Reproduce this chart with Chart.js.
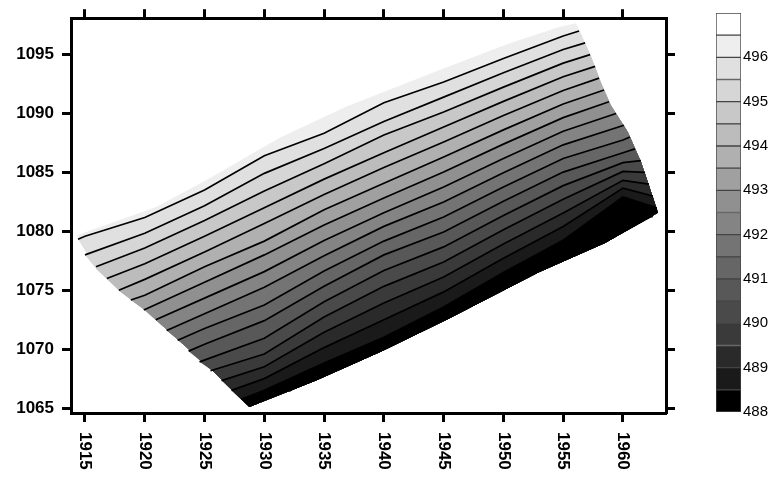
<!DOCTYPE html>
<html>
<head>
<meta charset="utf-8">
<script src="https://cdn.jsdelivr.net/npm/chart.js@4.4.1/dist/chart.umd.min.js"></script>
<style>
html, body { margin: 0; padding: 0; background: #fff; }
#wrap { position: relative; width: 774px; height: 484px; }
#map { position: absolute; left: 0; top: 0; }
#bar { position: absolute; left: 700px; top: 0; }
</style>
</head>
<body>
<div id="wrap">
  <canvas id="map" width="774" height="484"></canvas>
  <canvas id="bar" width="74" height="484"></canvas>
</div>
<script>
// year columns used to read the contour lines
const years = [1915, 1920, 1925, 1930, 1935, 1940, 1945, 1950, 1955, 1960];

// contour levels, top line first
const levels = [496, 495.5, 495, 494.5, 494, 493.5, 493, 492.5, 492, 491.5, 491, 490.5, 490, 489.5, 489, 488.5, 488];

// outline of the gridded area, clockwise from the left corner
const edgeX = [1914.33, 1917.08, 1921.0, 1925.42, 1931.25, 1936.83, 1941.25, 1944.83, 1950.42, 1954.58,
  1956.08, 1956.5, 1957.33, 1958.17, 1959.0, 1960.42, 1961.5, 1962.33, 1962.92,
  1958.5, 1952.92, 1945.42, 1939.83, 1934.33, 1928.75,
  1925.67, 1922.92, 1920.0, 1917.92, 1916.0];
const edgeY = [1079.67, 1080.67, 1082.08, 1084.5, 1087.92, 1090.58, 1092.33, 1093.75, 1095.92, 1097.33,
  1097.67, 1096.75, 1094.83, 1092.58, 1090.67, 1088.42, 1085.92, 1083.42, 1081.58,
  1079.0, 1076.5, 1072.58, 1069.83, 1067.33, 1065.08,
  1068.17, 1070.67, 1073.33, 1074.92, 1076.75];

// where each contour line meets the outline
const startX = [1914.42, 1915.0, 1915.92, 1916.83, 1917.83, 1918.83, 1919.92, 1920.92, 1921.83, 1922.75, 1923.67, 1924.58, 1925.5, 1926.42, 1927.25, 1928.08, 1932.08];
const startY = [1079.33, 1078.0, 1077.0, 1076.0, 1075.0, 1074.17, 1073.33, 1072.5, 1071.58, 1070.75, 1069.83, 1068.92, 1068.17, 1067.33, 1066.5, 1065.75, 1066.42];
const endX = [1956.33, 1956.83, 1957.25, 1957.67, 1958.0, 1958.42, 1958.83, 1959.42, 1960.08, 1960.58, 1961.0, 1961.5, 1961.83, 1962.17, 1962.5, 1962.83, 1962.5];
const endY = [1097, 1096, 1095, 1094, 1093, 1092, 1091, 1090, 1089, 1088, 1087, 1086, 1085, 1084, 1083, 1082, 1081.25];

// y of each contour line at the year columns (null = line not there)
const lineY = [
  [1079.58, 1081.17, 1083.5, 1086.42, 1088.33, 1090.92, 1092.67, 1094.67, 1096.58, null],
  [null, 1079.83, 1082.17, 1084.92, 1087.03, 1089.33, 1091.39, 1093.46, 1095.43, null],
  [null, 1078.58, 1080.92, 1083.42, 1085.73, 1088.17, 1090.13, 1092.24, 1094.28, null],
  [null, 1077.25, 1079.58, 1082.0, 1084.43, 1086.67, 1088.85, 1091.03, 1093.12, null],
  [null, 1075.92, 1078.25, 1080.67, 1083.13, 1085.42, 1087.58, 1089.83, 1091.96, null],
  [null, 1074.58, 1077.0, 1079.17, 1081.83, 1084.08, 1086.31, 1088.61, 1090.81, null],
  [null, null, 1075.67, 1078.0, 1080.53, 1082.83, 1085.03, 1087.4, 1089.65, null],
  [null, null, 1074.33, 1076.58, 1079.23, 1081.58, 1083.76, 1086.19, 1088.49, null],
  [null, null, 1073.0, 1075.25, 1077.93, 1080.42, 1082.49, 1084.98, 1087.34, null],
  [null, null, 1071.75, 1073.75, 1076.63, 1079.17, 1081.22, 1083.77, 1086.18, 1087.75],
  [null, null, 1070.42, 1072.42, 1075.33, 1078.0, 1079.94, 1082.56, 1085.03, 1086.67],
  [null, null, null, 1070.92, 1074.03, 1076.67, 1078.68, 1081.34, 1083.88, 1085.83],
  [null, null, null, 1069.58, 1072.73, 1075.33, 1077.4, 1080.13, 1082.72, 1085.08],
  [null, null, null, 1068.5, 1071.43, 1073.92, 1076.13, 1078.93, 1081.56, 1084.33],
  [null, null, null, 1067.5, 1070.13, 1072.5, 1074.86, 1077.71, 1080.41, 1083.67],
  [null, null, null, 1066.5, 1068.83, 1071.0, 1073.58, 1076.5, 1079.25, 1082.92],
  [null, null, null, null, 1068.17, 1070.42, 1072.92, 1075.67, 1078.42, 1081.5]
];

// colour scale, bottom band first
const barLevels = [488, 488.5, 489, 489.5, 490, 490.5, 491, 491.5, 492, 492.5, 493, 493.5, 494, 494.5, 495, 495.5, 496, 496.5, 497];
const barGrays = [0, 26, 42, 58, 74, 88, 102, 116, 132, 144, 160, 176, 188, 200, 214, 224, 238, 255];
const barTicks = [488, 489, 490, 491, 492, 493, 494, 495, 496];

const FONT = '"Liberation Sans", Arial, sans-serif';
const gray = g => `rgb(${g},${g},${g})`;
const pt = (x, y) => ({x, y});
const edge = edgeX.map((x, i) => pt(x, edgeY[i]));

const contours = levels.map((lv, k) => {
  const pts = [pt(startX[k], startY[k])];
  lineY[k].forEach((y, j) => { if (y !== null) pts.push(pt(years[j], y)); });
  pts.push(pt(endX[k], endY[k]));
  return pts;
});

function segDist(p, a, b) {
  const dx = b.x - a.x, dy = b.y - a.y;
  let t = ((p.x - a.x) * dx + (p.y - a.y) * dy) / (dx * dx + dy * dy);
  t = Math.max(0, Math.min(1, t));
  return Math.hypot(p.x - a.x - t * dx, p.y - a.y - t * dy);
}
function nearestSeg(p) {
  let best = 0, bd = Infinity;
  edge.forEach((a, i) => {
    const d = segDist(p, a, edge[(i + 1) % edge.length]);
    if (d < bd) { bd = d; best = i; }
  });
  return best;
}
// filler clips a shape to its first..last x, so start at the leftmost point
// and finish on the rightmost one (the extra chord cancels out)
function closedShape(pts) {
  let lo = 0, hi = 0;
  pts.forEach((p, i) => { if (p.x < pts[lo].x) lo = i; if (p.x > pts[hi].x) hi = i; });
  const ring = pts.slice(lo).concat(pts.slice(0, lo + 1));
  ring.push(pts[hi]);
  return ring;
}
function belowShape(line) {
  const is = nearestSeg(line[0]);
  const ie = nearestSeg(line[line.length - 1]);
  const pts = line.slice();
  const n = edge.length;
  for (let i = (ie + 1) % n; ; i = (i + 1) % n) {
    pts.push(edge[i]);
    if (i === is) break;
  }
  return closedShape(pts);
}
function bandGray(v) {
  const i = Math.max(0, Math.round((v - 0.5 - barLevels[0]) / 0.5));
  return gray(barGrays[Math.min(i, barGrays.length - 1)]);
}

const datasets = [];
datasets.push({
  data: closedShape(edge), showLine: true, fill: 'shape',
  backgroundColor: bandGray(levels[0] + 0.5), borderColor: 'rgba(0,0,0,0)', borderWidth: 0, order: 200
});
contours.forEach((line, k) => {
  datasets.push({
    data: belowShape(line), showLine: true, fill: 'shape',
    backgroundColor: bandGray(levels[k]), borderColor: 'rgba(0,0,0,0)', borderWidth: 0, order: 100 - k
  });
});
contours.forEach(line => {
  datasets.push({
    data: line, showLine: true, fill: false,
    borderColor: '#000', borderWidth: 1.7, order: 0
  });
});

const frame = {
  grid: { display: true, drawOnChartArea: false, drawTicks: true, tickLength: 9, tickWidth: 3, tickColor: '#000' },
  border: { display: true, width: 3, color: '#000' }
};
const xRange = { min: 1913.83, max: 1963.6 };
const yRange = { min: 1064.58, max: 1098.09 };

const xLabels = {
  id: 'xLabels',
  afterDraw(chart) {
    const sc = chart.scales.x, ctx = chart.ctx;
    ctx.save();
    ctx.font = 'bold 17px ' + FONT;
    ctx.fillStyle = '#000';
    ctx.textAlign = 'left';
    ctx.textBaseline = 'middle';
    sc.ticks.forEach(t => {
      ctx.save();
      ctx.translate(sc.getPixelForValue(t.value), sc.top + 19);
      ctx.rotate(Math.PI / 2);
      ctx.fillText(String(t.value), 0, 0);
      ctx.restore();
    });
    ctx.restore();
  }
};

new Chart(document.getElementById('map'), {
  type: 'scatter',
  data: { datasets },
  plugins: [xLabels],
  options: {
    responsive: false,
    animation: false,
    layout: { padding: 0 },
    elements: { point: { radius: 0, hoverRadius: 0 }, line: { tension: 0 } },
    plugins: { legend: { display: false }, tooltip: { enabled: false } },
    events: [],
    scales: {
      x: {
        type: 'linear', position: 'bottom', ...xRange, ...frame,
        ticks: { stepSize: 5, includeBounds: false, display: false },
        afterFit: s => { s.height = 71; }
      },
      x2: {
        type: 'linear', position: 'top', ...xRange, ...frame,
        ticks: { stepSize: 5, includeBounds: false, display: false },
        afterFit: s => { s.height = 12; }
      },
      y: {
        type: 'linear', position: 'left', ...yRange, ...frame,
        ticks: {
          stepSize: 5, includeBounds: false, padding: 8, color: '#000',
          font: { family: FONT, size: 17, weight: 'bold' },
          callback: v => String(v)
        },
        afterFit: s => { s.width = 71; }
      },
      y2: {
        type: 'linear', position: 'right', ...yRange, ...frame,
        ticks: { stepSize: 5, includeBounds: false, display: false },
        afterFit: s => { s.width = 108; }
      }
    }
  }
});

new Chart(document.getElementById('bar'), {
  type: 'bar',
  data: {
    labels: [''],
    datasets: barGrays.map((g, i) => ({
      data: [[barLevels[i], barLevels[i + 1]]],
      backgroundColor: gray(g),
      borderColor: '#444',
      borderWidth: 1,
      borderSkipped: false,
      grouped: false,
      barPercentage: 1,
      categoryPercentage: 1
    }))
  },
  options: {
    responsive: false,
    animation: false,
    events: [],
    layout: { padding: { left: 16, top: 13, bottom: 72, right: 0 } },
    plugins: { legend: { display: false }, tooltip: { enabled: false } },
    scales: {
      x: { display: false },
      y: {
        position: 'right', min: 488, max: 497,
        afterBuildTicks: s => { s.ticks = barTicks.map(v => ({ value: v })); },
        ticks: { padding: 2, color: '#000', font: { family: FONT, size: 15 }, callback: v => String(v) },
        grid: { display: false, drawTicks: false },
        border: { display: false },
        afterFit: s => { s.width = 33; }
      }
    }
  }
});
</script>
</body>
</html>
